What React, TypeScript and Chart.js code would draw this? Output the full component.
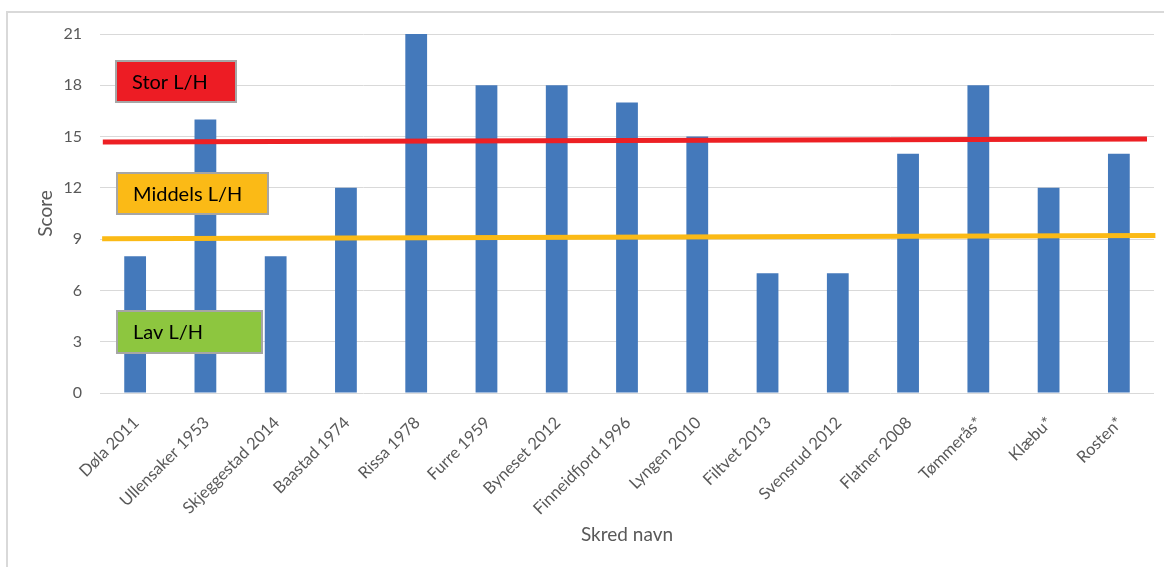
import React, { useEffect, useRef } from "react";
import { Chart, registerables } from "chart.js";

Chart.register(...registerables);

// Landslide names and their scores
const slideNames = [
  "Døla 2011",
  "Ullensaker 1953",
  "Skjeggestad 2014",
  "Baastad 1974",
  "Rissa 1978",
  "Furre 1959",
  "Byneset 2012",
  "Finneidfjord 1996",
  "Lyngen 2010",
  "Filtvet 2013",
  "Svensrud 2012",
  "Flatner 2008",
  "Tømmerås*",
  "Klæbu*",
  "Rosten*",
];
const scores = [8, 16, 8, 12, 21, 18, 18, 17, 15, 7, 7, 14, 18, 12, 14];

// Class boundary lines (x in category units, y = score)
const storLine = [
  { x: -0.46, y: 14.68 },
  { x: 14.4, y: 14.86 },
];
const middelsLine = [
  { x: -0.47, y: 9.02 },
  { x: 14.52, y: 9.21 },
];

// Class labels
const classLabels = ["Stor L/H", "Middels L/H", "Lav L/H"];
const classColors = ["#ED1C24", "#FBBA16", "#8DC63F"];

const FONT = "Lato, 'Open Sans', sans-serif";

const classBoxes = {
  id: "classBoxes",
  afterDraw(chart: Chart) {
    const ctx = chart.ctx;
    const rects = [
      { x: 116, y: 61, w: 120, h: 41 },
      { x: 117, y: 173, w: 151, h: 41 },
      { x: 117, y: 311, w: 145, h: 42 },
    ];
    ctx.save();
    rects.forEach((r, i) => {
      ctx.fillStyle = classColors[i];
      ctx.fillRect(r.x, r.y, r.w, r.h);
      ctx.strokeStyle = "#A6A6A6";
      ctx.lineWidth = 2;
      ctx.strokeRect(r.x, r.y, r.w, r.h);
      ctx.fillStyle = "#000000";
      ctx.font = `20px ${FONT}`;
      ctx.textAlign = "left";
      ctx.textBaseline = "middle";
      ctx.fillText(classLabels[i], r.x + 16, r.y + r.h / 2 + 1);
    });
    ctx.restore();
  },
};

const frame = {
  id: "frame",
  beforeDraw(chart: Chart) {
    const ctx = chart.ctx;
    ctx.save();
    ctx.strokeStyle = "#D9D9D9";
    ctx.lineWidth = 2;
    ctx.beginPath();
    ctx.moveTo(7, chart.height);
    ctx.lineTo(7, 12);
    ctx.lineTo(chart.width, 12);
    ctx.stroke();
    ctx.restore();
  },
};

export default function App() {
  const canvasRef = useRef<HTMLCanvasElement | null>(null);

  useEffect(() => {
    if (!canvasRef.current) return;
    const chart = new Chart(canvasRef.current, {
      type: "bar",
      data: {
        labels: slideNames,
        datasets: [
          {
            type: "bar",
            data: scores,
            backgroundColor: "#4479BB",
            borderWidth: 0,
            barPercentage: 0.62,
            categoryPercentage: 0.5,
            grouped: false,
            order: 2,
            xAxisID: "x",
          },
          {
            type: "line",
            data: middelsLine as any,
            borderColor: "#FBBA16",
            borderWidth: 5,
            pointRadius: 0,
            clip: false as any,
            order: 1,
            xAxisID: "xl",
          },
          {
            type: "line",
            data: storLine as any,
            borderColor: "#ED2024",
            borderWidth: 5,
            pointRadius: 0,
            clip: false as any,
            order: 0,
            xAxisID: "xl",
          },
        ],
      },
      options: {
        animation: false,
        responsive: true,
        maintainAspectRatio: false,
        layout: { padding: { left: 0, top: 34, right: 10, bottom: 0 } },
        plugins: {
          legend: { display: false },
          tooltip: { enabled: false },
        },
        scales: {
          x: {
            type: "category",
            offset: true,
            grid: { display: false, drawTicks: false },
            border: { display: false },
            ticks: {
              autoSkip: false,
              maxRotation: 45,
              minRotation: 45,
              padding: 20,
              labelOffset: 1,
              color: "#595959",
              font: { family: FONT, size: 16.5 },
            },
            title: {
              display: true,
              text: "Skred navn",
              color: "#595959",
              font: { family: FONT, size: 19 },
              padding: { top: 0, bottom: 21 },
            },
            afterFit(scale: any) {
              scale.height = 174;
            },
          },
          xl: {
            type: "linear",
            min: -0.5,
            max: 14.5,
            offset: false,
            display: false,
            grid: { offset: false },
          },
          y: {
            min: 0,
            max: 21,
            ticks: {
              stepSize: 3,
              padding: 18,
              color: "#595959",
              font: { family: FONT, size: 16 },
            },
            grid: { color: "#D9D9D9", lineWidth: 1, drawTicks: false },
            border: { display: false },
            title: {
              display: true,
              text: "Score",
              color: "#595959",
              font: { family: FONT, size: 19 },
              padding: { top: 34, bottom: 0 },
            },
            afterFit(scale: any) {
              scale.width = 100;
            },
          },
        },
      },
      plugins: [frame, classBoxes],
    });
    return () => chart.destroy();
  }, []);

  return (
    <div
      style={{
        position: "absolute",
        left: 0,
        top: 0,
        width: 1164,
        height: 567,
        background: "#ffffff",
      }}
    >
      <canvas ref={canvasRef} />
    </div>
  );
}
